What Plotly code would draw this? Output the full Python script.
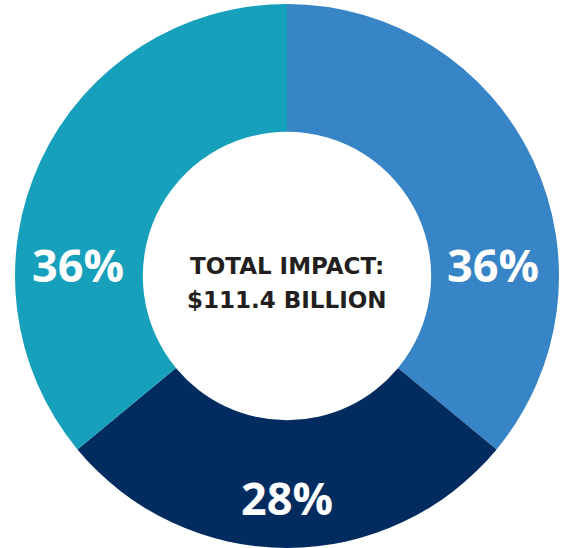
import plotly.graph_objects as go

labels = ["Segment A", "Segment B", "Segment C"]
values = [36, 28, 36]
colors = ["#3784C7", "#022C60", "#17A0BB"]
center_lines = ["TOTAL IMPACT:", "$111.4 BILLION"]

W, H = 562, 548
fig = go.Figure(go.Pie(
    labels=labels, values=values, hole=0.53, sort=False,
    direction="clockwise", rotation=0,
    marker=dict(colors=colors, line=dict(width=0)),
    textinfo="none", hoverinfo="label+percent",
    domain=dict(x=[15 / W, 559 / W], y=[0, 1 - 4 / H]),
    showlegend=False,
))

font_num = dict(family="Open Sans", size=45, color="white", weight=700)
pos = [(493, 265), (287, 497), (78, 265)]
for v, (px, py) in zip(values, pos):
    fig.add_annotation(x=px / W, y=1 - py / H, xref="paper", yref="paper",
                       text=f"{v}%", showarrow=False, font=font_num,
                       xanchor="center", yanchor="middle")

for line, py in zip(center_lines, [265.5, 299.5]):
    fig.add_annotation(x=287 / W, y=1 - py / H, xref="paper", yref="paper",
                       text=line, showarrow=False,
                       font=dict(family="DejaVu Sans", size=23, color="#231F20", weight=700),
                       xanchor="center", yanchor="middle", align="center")

fig.update_layout(width=W, height=H, margin=dict(l=0, r=0, t=0, b=0),
                  paper_bgcolor="white", plot_bgcolor="white")
fig.write_html("out.html", config={"displayModeBar": False},
               post_script="document.body.style.margin='0px';")
